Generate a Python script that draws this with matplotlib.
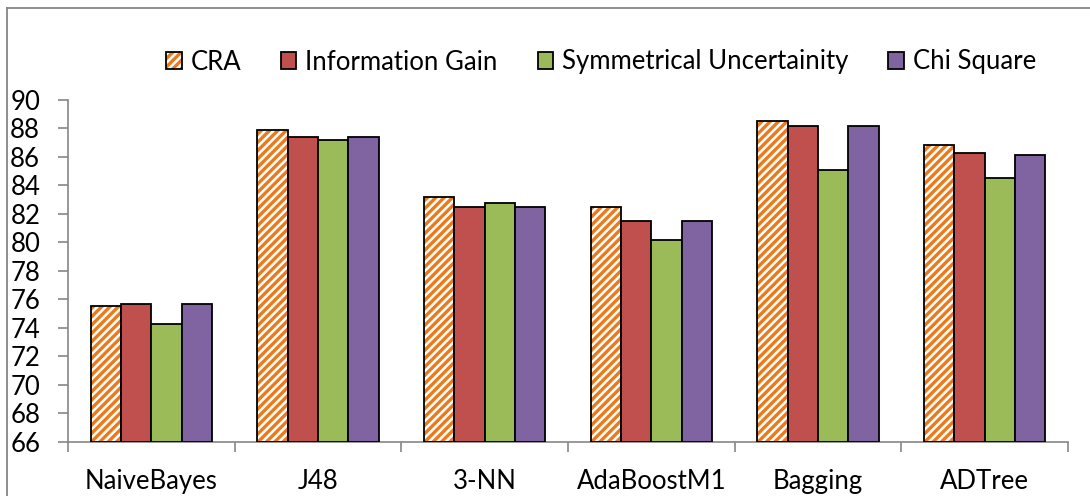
import matplotlib
matplotlib.use("Agg")
import matplotlib.pyplot as plt
from matplotlib.patches import Patch
from matplotlib.legend_handler import HandlerTuple
from matplotlib.lines import Line2D
import numpy as np

categories = ["NaiveBayes", "J48", "3-NN", "AdaBoostM1", "Bagging", "ADTree"]
series_names = ["CRA", "Information Gain", "Symmetrical Uncertainity", "Chi Square"]
cra = [75.5, 87.9, 83.2, 82.45, 88.5, 86.85]
info_gain = [75.7, 87.4, 82.45, 81.5, 88.15, 86.3]
sym_unc = [74.25, 87.2, 82.8, 80.2, 85.1, 84.55]
chi_sq = [75.7, 87.4, 82.45, 81.5, 88.15, 86.15]
y_ticks = list(range(66, 91, 2))

plt.rcParams['font.family'] = ['Lato', 'DejaVu Sans']
plt.rcParams['hatch.linewidth'] = 2.4

fig = plt.figure(figsize=(10.9, 4.96), dpi=100)
ax = fig.add_axes([68/1090, 1-441.7/496, 1000/1090, (441.7-100)/496])

orange = "#EC7A1A"
colors = [None, "#C0504D", "#9BBB59", "#8064A2"]
x = np.arange(len(categories))
w = 0.182
base = 66
fs = 18.5
data = [cra, info_gain, sym_unc, chi_sq]
for i, vals in enumerate(data):
    pos = x + (i - 1.5) * w
    heights = [v - base for v in vals]
    if i == 0:
        ax.bar(pos, heights, w, bottom=base, facecolor="white", edgecolor=orange,
               hatch="////", linewidth=0, zorder=2)
        ax.bar(pos, heights, w, bottom=base, fill=False, edgecolor="black",
               linewidth=1.3, zorder=3)
    else:
        ax.bar(pos, heights, w, bottom=base, color=colors[i], edgecolor="black",
               linewidth=1.3, zorder=3)

ax.set_ylim(66, 90)
ax.set_yticks(y_ticks)
ax.set_yticklabels([str(t) for t in y_ticks], fontsize=fs)
ax.set_xlim(-0.5, len(categories) - 0.5)
ax.set_xticks(x)
ax.set_xticklabels(categories, fontsize=fs)
ax.set_xticks(np.arange(-0.5, len(categories), 1.0), minor=True)
ax.tick_params(axis='x', which='major', length=0, pad=20)
ax.tick_params(axis='x', which='minor', length=7, width=1.2, color="#868686", direction='out')
ax.tick_params(axis='y', length=7, width=1.2, color="#868686", pad=13)
for s in ["top", "right"]:
    ax.spines[s].set_visible(False)
for s in ["left", "bottom"]:
    ax.spines[s].set_color("#868686")
    ax.spines[s].set_linewidth(1.2)

# Legend
h_cra = (Patch(facecolor="white", edgecolor=orange, hatch="////", linewidth=0),
         Patch(fill=False, edgecolor="black", linewidth=1.3))
handles = [h_cra] + [Patch(facecolor=colors[i], edgecolor="black", linewidth=1.3) for i in range(1, 4)]
fig.legend(handles, series_names, loc="center", bbox_to_anchor=(601/1090, 1-62/496),
           ncol=4, frameon=False, fontsize=fs, handlelength=0.6, handleheight=0.6,
           handletextpad=0.35, columnspacing=1.55,
           handler_map={tuple: HandlerTuple(ndivide=1)})

# Outer chart border
fig.add_artist(Line2D([7/1090, 7/1090], [0, 1-8/496], transform=fig.transFigure,
                      color="#868686", linewidth=1.3))
fig.add_artist(Line2D([7/1090, 1.0], [1-8/496, 1-8/496], transform=fig.transFigure,
                      color="#868686", linewidth=1.3))

fig.savefig("out.png", dpi=100)
